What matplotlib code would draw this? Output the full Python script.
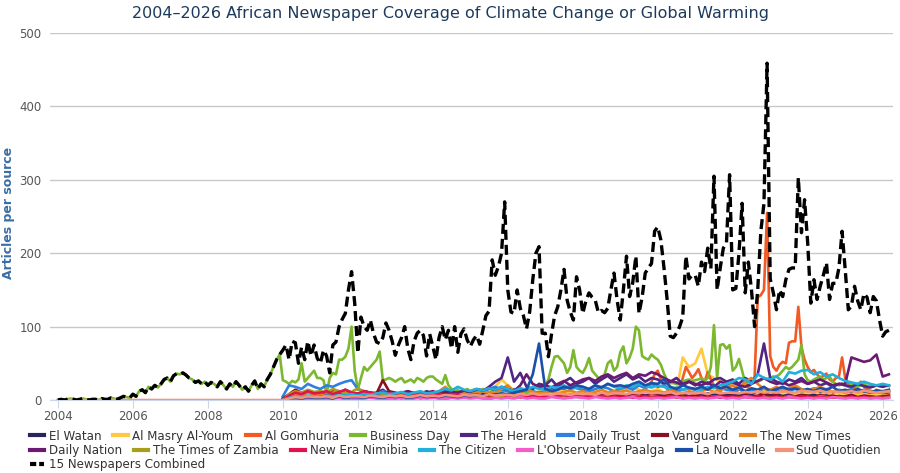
import matplotlib
matplotlib.use("Agg")
import matplotlib.pyplot as plt
from matplotlib.lines import Line2D
import numpy as np
import pandas as pd

# ---- data (articles per source) ----
names = ["El Watan", "Al Masry Al-Youm", "Al Gomhuria", "Business Day", "The Herald",
         "Daily Trust", "Vanguard", "The New Times", "Daily Nation", "The Times of Zambia",
         "New Era Nimibia", "The Citizen", "L'Observateur Paalga", "La Nouvelle", "Sud Quotidien"]
colors = ["#27255f", "#ffc83d", "#f15a22", "#7cb82f", "#4f2683",
          "#2f80e0", "#8a1020", "#e8821e", "#6b1a73", "#a89e1c",
          "#e2124f", "#20b0dc", "#f35cc9", "#1b4fa8", "#f4937a"]

# combined, monthly from 2004-01
combined = [
    0, 1, 0, 1, 2, 1, 0, 1, 2, 1, 0, 1,
    1, 0, 2, 1, 1, 3, 2, 1, 3, 5, 4, 3,
    8, 5, 12, 14, 10, 18, 15, 20, 17, 22, 28, 30,
    25, 33, 36, 35, 37, 34, 30, 28, 24, 26, 22, 25,
    20, 24, 22, 18, 25, 20, 15, 22, 18, 25, 20, 14,
    18, 12, 20, 26, 15, 22, 18, 28, 35, 45, 55, 62,
    68, 75, 55, 80, 78, 50, 72, 55, 80, 60, 75, 57,
    50, 68, 60, 37, 75, 79, 100, 110, 118, 150, 175, 132,
    64, 113, 100, 95, 109, 91, 79, 77, 85, 105, 95, 80,
    61, 75, 85, 100, 70, 55, 80, 91, 95, 88, 60, 90,
    73, 55, 85, 100, 82, 95, 70, 100, 65, 90, 97, 82,
    73, 82, 88, 76, 95, 115, 121, 191, 170, 182, 200, 270,
    150, 120, 118, 150, 125, 115, 97, 120, 164, 200, 209, 91,
    91, 59, 90, 115, 127, 150, 178, 136, 120, 109, 168, 150,
    118, 135, 146, 140, 136, 119, 122, 119, 125, 150, 173, 136,
    109, 150, 196, 141, 160, 196, 118, 140, 173, 180, 186, 230,
    236, 218, 180, 137, 87, 85, 91, 100, 113, 196, 165, 170,
    170, 155, 188, 175, 207, 179, 305, 150, 180, 207, 214, 307,
    150, 152, 200, 268, 146, 188, 150, 100, 150, 230, 268, 459,
    165, 146, 123, 150, 141, 164, 178, 180, 180, 303, 228, 273,
    214, 132, 164, 137, 155, 170, 187, 137, 159, 159, 180, 230,
    178, 123, 128, 155, 135, 123, 145, 140, 119, 141, 135, 109,
    87, 93, 95,
]

# Business Day, monthly from 2004-01
business_day = [
    0, 1, 0, 1, 2, 1, 0, 1, 2, 1, 0, 1,
    1, 0, 2, 1, 1, 3, 2, 1, 3, 5, 4, 3,
    8, 5, 12, 14, 10, 18, 15, 20, 17, 22, 28, 30,
    25, 33, 36, 35, 37, 34, 30, 28, 24, 26, 22, 25,
    20, 24, 22, 18, 25, 20, 15, 22, 18, 25, 20, 14,
    18, 12, 20, 26, 15, 22, 18, 28, 35, 45, 55, 62,
    27, 25, 22, 26, 24, 28, 50, 25, 30, 35, 40, 30,
    30, 27, 9, 30, 37, 35, 55, 55, 59, 70, 100, 40,
    14, 30, 45, 40, 45, 50, 55, 66, 27, 28, 30, 28,
    25, 28, 30, 24, 26, 28, 24, 30, 28, 25, 30, 32,
    32, 28, 25, 22, 34, 20, 15, 12, 14, 10, 12, 15,
    12, 14, 10, 12, 15, 13, 10, 12, 14, 12, 10, 15,
    12, 10, 14, 12, 15, 13, 10, 12, 15, 18, 20, 15,
    20, 28, 45, 59, 60, 55, 50, 37, 45, 68, 45, 40,
    37, 45, 57, 40, 35, 30, 28, 35, 50, 54, 40, 45,
    65, 73, 50, 58, 70, 100, 95, 60, 57, 55, 62, 58,
    55, 48, 36, 27, 23, 23, 22, 23, 25, 27, 28, 26,
    27, 28, 30, 26, 30, 45, 102, 30, 75, 76, 70, 75,
    40, 45, 56, 40, 23, 25, 27, 27, 25, 27, 30, 28,
    30, 32, 32, 35, 40, 45, 42, 45, 50, 55, 75, 35,
    27, 25, 28, 30, 32, 28, 30, 32, 25, 22, 20, 22,
    20, 18, 22, 20, 18, 20, 22, 19, 20, 18, 20, 19,
    18, 20, 19,
]

# Al Gomhuria, monthly from 2013-01
al_gomhuria = [
    2, 3, 2, 4, 3, 2, 3, 4, 2, 3, 5, 3,
    3, 4, 2, 5, 3, 4, 6, 3, 4, 5, 3, 4,
    4, 3, 5, 4, 6, 5, 4, 3, 5, 6, 4, 5,
    5, 4, 6, 5, 3, 4, 5, 6, 4, 5, 7, 5,
    4, 6, 5, 7, 5, 4, 6, 5, 7, 6, 5, 8,
    6, 5, 7, 6, 8, 5, 7, 6, 9, 7, 6, 8,
    7, 9, 6, 8, 10, 7, 9, 12, 15, 20, 25, 35,
    40, 28, 20, 15, 12, 10, 8, 15, 30, 45, 38, 30,
    35, 42, 30, 25, 38, 28, 20, 15, 12, 18, 22, 15,
    12, 10, 15, 20, 25, 18, 22, 30, 140, 143, 150, 255,
    60, 45, 40, 48, 52, 50, 78, 80, 80, 127, 72, 55,
    45, 38, 41, 35, 30, 33, 36, 28, 25, 30, 32, 58,
    30, 22, 18, 15, 20, 25, 18, 15, 12, 10, 14, 12,
    10, 12, 11,
]

# the other papers, every two months from 2010-01
el_watan = [2, 4, 3, 5, 3, 4, 3, 5, 4, 6, 3, 5, 4, 3, 6, 4, 5, 3, 3, 5, 4, 3, 6, 4,
            4, 6, 5, 4, 7, 5, 5, 4, 7, 6, 5, 8, 6, 5, 8, 6, 7, 5, 6, 8, 5, 7, 6, 9,
            7, 5, 8, 6, 9, 7, 6, 8, 7, 9, 6, 8, 7, 9, 6, 8, 7, 10, 8, 6, 9, 7, 10, 8,
            9, 7, 10, 8, 11, 9, 8, 10, 7, 9, 8, 10, 9, 7, 10, 8, 9, 7, 8, 10, 7, 9, 8, 6,
            7, 8]
al_masry = [0, 0, 1, 2, 1, 2, 2, 1, 3, 2, 2, 3, 3, 2, 4, 3, 2, 3, 4, 3, 5, 4, 3, 6,
            5, 4, 6, 8, 6, 5, 6, 8, 7, 10, 18, 28, 20, 12, 9, 10, 8, 12, 10, 8, 12, 15, 10, 9,
            8, 12, 10, 14, 11, 9, 12, 15, 18, 14, 10, 12, 15, 10, 8, 12, 58, 45, 50, 70, 35, 30, 25, 22,
            18, 15, 20, 12, 10, 14, 10, 12, 9, 11, 8, 10, 9, 11, 8, 10, 7, 9, 8, 10, 7, 9, 8, 7,
            6, 7]
the_herald = [0, 2, 4, 3, 5, 4, 5, 3, 6, 4, 8, 6, 7, 12, 9, 10, 14, 8, 6, 9, 7, 10, 8, 12,
              9, 7, 11, 8, 10, 12, 10, 14, 12, 18, 25, 30, 58, 25, 37, 18, 15, 22, 20, 28, 18, 25, 30, 22,
              25, 30, 22, 28, 33, 25, 30, 35, 28, 32, 25, 30, 28, 22, 25, 30, 22, 25, 20, 25, 22, 28, 30, 25,
              28, 22, 30, 25, 35, 77, 30, 25, 22, 28, 25, 30, 22, 25, 20, 23, 18, 22, 20, 18, 22, 19, 17, 20,
              18, 20]
daily_trust = [5, 20, 18, 15, 22, 18, 15, 20, 18, 22, 25, 27, 15, 12, 10, 8, 12, 10, 8, 10, 7, 9, 6, 8,
               7, 9, 6, 8, 10, 7, 8, 10, 12, 15, 18, 14, 12, 15, 10, 14, 12, 10, 12, 14, 18, 15, 20, 16,
               14, 12, 15, 18, 16, 12, 15, 18, 14, 20, 16, 22, 18, 20, 15, 12, 14, 16, 14, 18, 15, 20, 16, 14,
               12, 15, 10, 14, 12, 16, 14, 12, 16, 13, 15, 12, 13, 16, 12, 15, 11, 14, 12, 15, 11, 14, 12, 10,
               11, 12]
vanguard = [2, 8, 14, 10, 12, 9, 10, 8, 12, 9, 14, 10, 8, 12, 10, 9, 27, 12, 10, 8, 12, 9, 7, 10,
            8, 6, 9, 7, 8, 6, 7, 5, 8, 6, 9, 7, 6, 8, 5, 7, 6, 9, 7, 5, 8, 6, 7, 5,
            6, 8, 5, 7, 6, 8, 5, 7, 6, 8, 5, 7, 6, 5, 7, 8, 6, 5, 7, 5, 6, 4, 7, 5,
            6, 4, 7, 5, 6, 8, 5, 7, 4, 6, 5, 7, 6, 4, 7, 5, 6, 4, 5, 7, 4, 6, 5, 4,
            5, 6]
new_times = [0, 5, 8, 6, 10, 7, 8, 6, 10, 12, 8, 9, 7, 9, 6, 8, 10, 7, 8, 6, 9, 7, 10, 8,
             9, 12, 18, 10, 8, 9, 8, 10, 12, 9, 11, 15, 20, 12, 10, 14, 11, 9, 10, 12, 9, 11, 13, 10,
             12, 9, 11, 14, 10, 12, 11, 13, 10, 12, 14, 11, 12, 10, 13, 11, 9, 12, 10, 12, 15, 11, 13, 18,
             20, 15, 25, 30, 22, 15, 14, 18, 12, 16, 20, 15, 12, 15, 18, 14, 11, 13, 10, 12, 14, 11, 13, 10,
             11, 12]
daily_nation = [0, 1, 3, 2, 4, 3, 4, 6, 5, 8, 6, 7, 8, 6, 10, 7, 9, 11, 8, 10, 12, 9, 11, 10,
                12, 9, 14, 11, 10, 13, 11, 15, 13, 16, 14, 18, 15, 12, 20, 35, 22, 18, 20, 17, 22, 26, 20, 24,
                28, 30, 26, 32, 35, 30, 34, 37, 30, 35, 33, 38, 35, 30, 26, 24, 20, 25, 22, 20, 24, 18, 25, 22,
                24, 20, 18, 22, 26, 30, 25, 22, 24, 20, 23, 26, 22, 25, 28, 24, 20, 22, 22, 58, 55, 52, 54, 62,
                32, 35]
times_zambia = [0, 8, 12, 10, 14, 11, 12, 10, 15, 12, 9, 11, 16, 10, 8, 9, 7, 8, 6, 8, 5, 7, 6, 5,
                5, 7, 4, 6, 5, 4, 4, 6, 5, 7, 5, 6, 5, 4, 6, 5, 4, 6, 5, 6, 4, 5, 6, 4,
                4, 5, 6, 4, 5, 3, 4, 3, 5, 4, 3, 5, 4, 3, 5, 3, 4, 3, 3, 4, 3, 5, 4, 3,
                4, 3, 5, 4, 3, 4, 3, 4, 3, 5, 4, 3, 4, 3, 5, 4, 3, 4, 3, 4, 3, 4, 3, 3,
                3, 4]
new_era = [0, 6, 10, 8, 12, 9, 10, 12, 8, 11, 14, 10, 9, 12, 10, 8, 11, 9, 8, 10, 7, 9, 8, 6,
           7, 9, 6, 8, 7, 5, 6, 8, 5, 7, 6, 8, 5, 7, 6, 4, 6, 5, 4, 6, 5, 7, 4, 5,
           5, 4, 6, 5, 3, 5, 4, 5, 3, 4, 5, 3, 4, 3, 5, 4, 3, 4, 3, 4, 3, 5, 3, 4,
           4, 3, 4, 3, 5, 3, 3, 4, 3, 4, 3, 5, 4, 3, 4, 3, 4, 3, 3, 4, 3, 4, 3, 3,
           3, 3]
the_citizen = [0, 3, 5, 4, 6, 5, 4, 6, 5, 7, 6, 8, 6, 8, 7, 9, 10, 8, 9, 11, 8, 10, 12, 9,
               10, 12, 15, 13, 18, 14, 12, 15, 13, 16, 14, 18, 15, 12, 16, 14, 18, 15, 14, 18, 16, 20, 15, 17,
               18, 15, 20, 17, 22, 18, 16, 20, 18, 22, 19, 17, 20, 18, 15, 17, 14, 16, 15, 14, 18, 16, 20, 22,
               25, 30, 28, 22, 35, 30, 28, 32, 25, 38, 36, 40, 41, 35, 38, 32, 35, 30, 26, 24, 22, 25, 22, 20,
               22, 20]
observateur = [0, 1, 2, 1, 2, 1, 2, 1, 2, 3, 1, 2, 1, 2, 3, 2, 1, 2, 2, 3, 1, 2, 3, 2,
               3, 2, 1, 3, 2, 3, 2, 3, 2, 1, 3, 2, 3, 2, 4, 2, 3, 2, 2, 4, 3, 2, 3, 4,
               3, 2, 4, 3, 2, 3, 2, 3, 4, 2, 3, 2, 3, 2, 3, 4, 2, 3, 2, 3, 2, 3, 4, 2,
               3, 2, 4, 3, 2, 3, 2, 3, 2, 4, 3, 2, 3, 2, 3, 2, 4, 3, 2, 3, 2, 3, 2, 3,
               2, 3]
la_nouvelle = [0, 2, 3, 2, 4, 3, 3, 4, 2, 5, 3, 4, 4, 3, 5, 4, 3, 5, 4, 5, 3, 4, 6, 4,
               5, 4, 6, 5, 4, 6, 5, 7, 6, 8, 7, 9, 8, 10, 12, 14, 35, 77, 15, 12, 14, 18, 16, 20,
               18, 15, 20, 17, 22, 19, 20, 18, 22, 25, 20, 23, 22, 28, 18, 15, 20, 17, 15, 18, 14, 20, 16, 18,
               14, 17, 12, 16, 14, 18, 12, 15, 18, 14, 16, 13, 15, 12, 16, 14, 18, 12, 14, 11, 15, 12, 10, 13,
               12, 14]
# Sud Quotidien, every two months from 2004-01
sud_quotidien = [0, 0, 0, 0, 0, 0, 0, 0, 0, 0, 0, 0, 0, 0, 0, 0, 0, 0,
                 0, 0, 0, 0, 0, 0, 0, 0, 0, 0, 0, 0, 0, 0, 0, 0, 0, 0,
                 0, 2, 4, 3, 5, 4, 4, 5, 3, 6, 4, 5, 5, 4, 6, 5, 4, 6, 5, 6, 4, 5, 7, 5,
                 6, 5, 7, 6, 5, 7, 6, 7, 5, 8, 6, 7, 7, 6, 8, 7, 9, 7, 8, 7, 9, 8, 7, 9,
                 8, 9, 7, 10, 8, 9, 9, 8, 10, 9, 11, 9, 10, 9, 11, 8, 10, 9, 9, 10, 8, 11, 9, 10,
                 10, 9, 11, 10, 12, 10, 11, 10, 12, 11, 10, 13, 12, 11, 13, 10, 12, 11, 11, 12, 10, 13, 11, 10,
                 11, 12]

# (values, start year, start month, step in months)
series = [
    (el_watan, 2010, 1, 2), (al_masry, 2010, 1, 2), (al_gomhuria, 2013, 1, 1),
    (business_day, 2004, 1, 1), (the_herald, 2010, 1, 2), (daily_trust, 2010, 1, 2),
    (vanguard, 2010, 1, 2), (new_times, 2010, 1, 2), (daily_nation, 2010, 1, 2),
    (times_zambia, 2010, 1, 2), (new_era, 2010, 1, 2), (the_citizen, 2010, 1, 2),
    (observateur, 2010, 1, 2), (la_nouvelle, 2010, 1, 2), (sud_quotidien, 2004, 1, 2),
]


def year_axis(y0, m0, n, step):
    d = pd.date_range(f"{y0}-{m0:02d}-01", periods=n, freq=f"{step}MS")
    return np.asarray(d.year + (d.month - 1) / 12.0)


fig = plt.figure(figsize=(9, 4.73), dpi=100)
ax = fig.add_axes([0.0556, 0.1543, 0.9364, 0.7757])

for (vals, y0, m0, step), name, c in zip(series, names, colors):
    ax.plot(year_axis(y0, m0, len(vals), step), vals, color=c, lw=1.9,
            solid_joinstyle="round", zorder=2)

ax.plot(year_axis(2004, 1, len(combined), 1), combined, color="black", lw=2.4,
        dashes=(3.0, 1.5), zorder=3)

ax.set_xlim(2003.79, 2026.27)
ax.set_ylim(0, 500)
ax.set_yticks(range(0, 501, 100))
ax.set_xticks(range(2004, 2027, 2))
ax.grid(axis="y", color="#c8c8c8", lw=1)
ax.set_axisbelow(True)
for s in ["top", "right", "left"]:
    ax.spines[s].set_visible(False)
ax.spines["bottom"].set_color("#ccd6eb")
ax.tick_params(axis="y", length=0, labelsize=8.5, labelcolor="#555555", pad=6)
ax.tick_params(axis="x", length=6, color="#ccd6eb", labelsize=8.5, labelcolor="#555555", pad=1)

fig.text(0.010, 0.55, "Articles per source", rotation=90, ha="center", va="center",
         color="#3a6ea5", fontsize=9, fontweight="bold")
fig.text(0.5, 0.972, "2004\u20132026 African Newspaper Coverage of Climate Change or Global Warming",
         ha="center", va="center", fontsize=11.5, color="#1c3a5c")

handles = [Line2D([], [], color=c, lw=3) for c in colors]
comb_h = Line2D([], [], color="black", lw=3, dashes=(1.5, 0.7))
rows = [(handles[:8], names[:8], 0.078), (handles[8:], names[8:], 0.048),
        ([comb_h], ["15 Newspapers Combined"], 0.017)]
for hs, ls, yy in rows:
    fig.legend(hs, ls, loc="center left", bbox_to_anchor=(0.033, yy), ncol=len(hs),
               frameon=False, fontsize=8.6, handlelength=1.2, handletextpad=0.4,
               columnspacing=1.0, borderpad=0, borderaxespad=0, labelcolor="#333333")

fig.savefig("out.png", dpi=100)
